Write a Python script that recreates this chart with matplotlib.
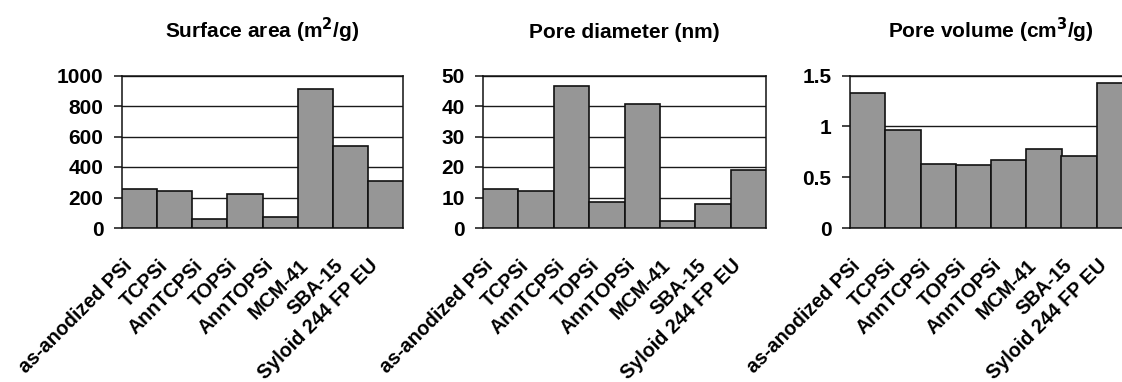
import matplotlib
matplotlib.use('Agg')
import matplotlib.pyplot as plt
import matplotlib.transforms as mtransforms
import numpy as np

plt.rcParams['font.family'] = ['Liberation Sans', 'DejaVu Sans']
plt.rcParams['font.weight'] = 'bold'

samples = ['as-anodized PSi', 'TCPSi', 'AnnTCPSi', 'TOPSi', 'AnnTOPSi',
           'MCM-41', 'SBA-15', 'Syloid 244 FP EU']

surface_area = [253, 244, 59, 220, 70, 910, 536, 308]
pore_diameter = [12.7, 12.0, 46.5, 8.5, 40.7, 2.4, 7.9, 18.9]
pore_volume = [1.33, 0.966, 0.63, 0.617, 0.669, 0.781, 0.709, 1.424]

titles = ['Surface area (m$\\mathbf{^2}$/g)', 'Pore diameter (nm)',
          'Pore volume (cm$\\mathbf{^3}$/g)']
ylims = [1000, 50, 1.5]
yticks = [[0, 200, 400, 600, 800, 1000],
          [0, 10, 20, 30, 40, 50],
          [0, 0.5, 1, 1.5]]
ytick_labels = [['0', '200', '400', '600', '800', '1000'],
                ['0', '10', '20', '30', '40', '50'],
                ['0', '0.5', '1', '1.5']]
datasets = [surface_area, pore_diameter, pore_volume]

# axes boxes in pixels (left, width) from the reference
W, H = 1122, 382
boxes = [(122, 281), (483, 283), (850, 282)]
bottom_px, top_px = 228, 75.5

fig = plt.figure(figsize=(W / 100, H / 100), dpi=100)

for (left, width), vals, title, ymax, yt, ytl in zip(boxes, datasets, titles, ylims, yticks, ytick_labels):
    ax = fig.add_axes([left / W, (H - bottom_px) / H, width / W, (bottom_px - top_px) / H])
    x = np.arange(len(samples))
    ax.bar(x, vals, width=1.0, color='#969696', edgecolor='#111111', linewidth=1.2, zorder=3)
    ax.set_xlim(-0.5, len(samples) - 0.5)
    ax.set_ylim(0, ymax)
    ax.set_yticks(yt)
    ax.set_yticklabels(ytl, fontsize=15, fontweight='bold')
    ax.yaxis.grid(True, color='#1a1a1a', linewidth=1.0, zorder=0)
    ax.set_axisbelow(True)
    for s in ax.spines.values():
        s.set_color('#111111')
        s.set_linewidth(1.1)
    ax.tick_params(axis='y', length=5.8, width=1.1, color='#111111', pad=7.5)
    ax.tick_params(axis='x', length=0, pad=25)
    ax.set_xticks(x)
    labels = ax.set_xticklabels(samples, rotation=45, ha='right', va='center',
                                rotation_mode='anchor', fontsize=14.2, fontweight='bold')
    offset = mtransforms.ScaledTranslation(-0.1, 0, fig.dpi_scale_trans)
    for lab in labels:
        lab.set_transform(lab.get_transform() + offset)
    ax.set_title(title, fontsize=15, fontweight='bold', pad=27)

fig.savefig('out.png', dpi=100)
